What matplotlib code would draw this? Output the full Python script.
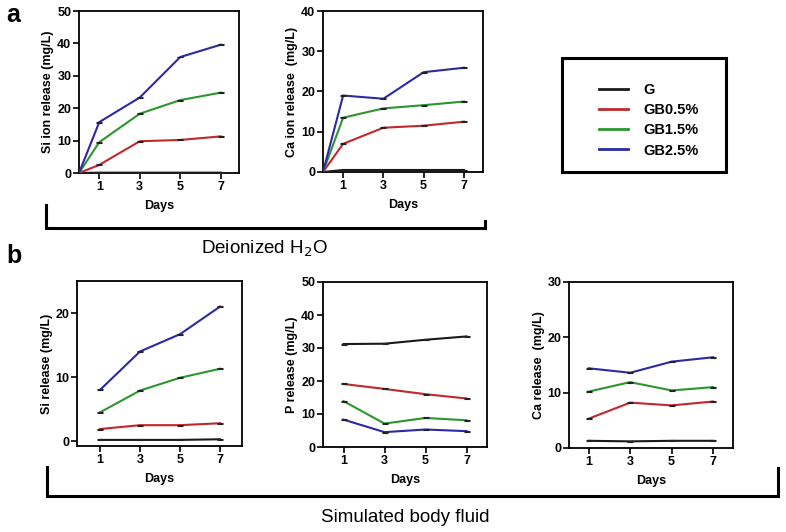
import matplotlib
matplotlib.use('Agg')
import matplotlib.pyplot as plt
from matplotlib.lines import Line2D
from matplotlib.patches import Rectangle

plt.rcParams['font.family'] = ['Liberation Sans', 'DejaVu Sans']

W, H = 786, 532

groups = ['G', 'GB0.5%', 'GB1.5%', 'GB2.5%']
colors = ['#1a1a1a', '#c0282c', '#2a962e', '#2a2aa6']

# (a) deionized water
days_a = [0, 1, 3, 5, 7]
si_water = {
    'G': [0, 0.1, 0.1, 0.1, 0.1],
    'GB0.5%': [0, 2.5, 9.8, 10.2, 11.3],
    'GB1.5%': [0, 9.5, 18.3, 22.5, 24.8],
    'GB2.5%': [0, 15.7, 23.3, 35.8, 39.6],
}
ca_water = {
    'G': [0, 0.5, 0.5, 0.5, 0.5],
    'GB0.5%': [0, 7.0, 11.0, 11.5, 12.5],
    'GB1.5%': [0, 13.5, 15.8, 16.6, 17.5],
    'GB2.5%': [0, 19.0, 18.2, 24.8, 25.9],
}

# (b) simulated body fluid
days_b = [1, 3, 5, 7]
si_sbf = {
    'G': [0.2, 0.2, 0.2, 0.3],
    'GB0.5%': [1.9, 2.5, 2.5, 2.8],
    'GB1.5%': [4.5, 7.9, 9.9, 11.3],
    'GB2.5%': [8.0, 14.0, 16.7, 21.0],
}
p_sbf = {
    'G': [31.2, 31.3, 32.5, 33.5],
    'GB0.5%': [19.1, 17.6, 16.0, 14.7],
    'GB1.5%': [13.9, 7.1, 8.8, 8.1],
    'GB2.5%': [8.3, 4.5, 5.3, 4.8],
}
ca_sbf = {
    'G': [1.3, 1.2, 1.3, 1.3],
    'GB0.5%': [5.3, 8.2, 7.7, 8.4],
    'GB1.5%': [10.2, 11.9, 10.4, 11.0],
    'GB2.5%': [14.4, 13.6, 15.6, 16.4],
}


def px_box(left, top, right, bottom):
    return [left / W, 1 - bottom / H, (right - left) / W, (bottom - top) / H]


def fx(x):
    return x / W


def fy(y):
    return 1 - y / H


def panel(fig, box, days, data, ylabel, xlim, ylim, yticks):
    ax = fig.add_axes(px_box(*box))
    for g, c in zip(groups, colors):
        ax.plot(days, data[g], color=c, lw=1.5, zorder=3)
        pts_x = [d for d in days if d > 0]
        pts_y = [v for d, v in zip(days, data[g]) if d > 0]
        ax.errorbar(pts_x, pts_y, yerr=0.15 * (ylim[1] - ylim[0]) / 50, fmt='none',
                    ecolor='#222222', capsize=2, elinewidth=0.6, capthick=0.8,
                    zorder=4)
    ax.set_xlim(*xlim)
    ax.set_ylim(*ylim)
    ax.set_xticks([1, 3, 5, 7])
    ax.set_yticks(yticks)
    ax.set_xlabel('Days', fontsize=9, fontweight='bold', labelpad=5)
    ax.set_ylabel(ylabel, fontsize=9, fontweight='bold', labelpad=2)
    for s in ax.spines.values():
        s.set_linewidth(1.3)
    ax.tick_params(direction='out', length=4, width=1.2, labelsize=9, pad=1.5)
    for lab in ax.get_xticklabels() + ax.get_yticklabels():
        lab.set_fontweight('bold')
    return ax


fig = plt.figure(figsize=(W / 100, H / 100), dpi=100)

panel(fig, (79, 11, 239, 173), days_a, si_water, 'Si ion release (mg/L)',
      (0, 7.9), (0, 50), [0, 10, 20, 30, 40, 50])
panel(fig, (323, 11, 483, 172), days_a, ca_water, 'Ca ion release  (mg/L)',
      (0, 7.95), (0, 40), [0, 10, 20, 30, 40])
panel(fig, (77, 281, 242, 446), days_b, si_sbf, 'Si release (mg/L)',
      (-0.15, 8.1), (-0.75, 25), [0, 10, 20])
panel(fig, (323, 282, 487, 447), days_b, p_sbf, 'P release (mg/L)',
      (0, 8.0), (0, 50), [0, 10, 20, 30, 40, 50])
panel(fig, (569, 282, 733, 448), days_b, ca_sbf, 'Ca release  (mg/L)',
      (0.05, 7.96), (0, 30), [0, 10, 20, 30])

# legend box
fig.add_artist(Rectangle((fx(562), fy(172)), fx(726) - fx(562), fy(58) - fy(172),
                         transform=fig.transFigure, fill=False, lw=2.2, ec='black'))
handles = [Line2D([], [], color=c, lw=2) for c in colors]
leg = fig.legend(handles, groups, loc='upper left', bbox_to_anchor=(fx(586), fy(70)),
                 frameon=False, handlelength=2.0, handletextpad=1.0,
                 labelspacing=0.42, prop={'weight': 'bold', 'size': 10.5})

# brackets
def bracket(x0, x1, y_bottom, y0_top, y1_top):
    fig.add_artist(Line2D([fx(x0), fx(x0), fx(x1), fx(x1)],
                          [fy(y0_top), fy(y_bottom), fy(y_bottom), fy(y1_top)],
                          transform=fig.transFigure, color='black', lw=2.2,
                          solid_joinstyle='miter'))

bracket(46, 485, 228, 205, 221)
bracket(47, 778, 496, 467, 468)

fig.text(fx(264), fy(249), 'Deionized H$_2$O', fontsize=13.5, ha='center', va='center')
fig.text(fx(405), fy(518), 'Simulated body fluid', fontsize=13.5, ha='center', va='center')
fig.text(fx(6), fy(22), 'a', fontsize=18, fontweight='bold', ha='left', va='baseline')
fig.text(fx(6), fy(263), 'b', fontsize=18, fontweight='bold', ha='left', va='baseline')

fig.savefig('out.png', dpi=100)
